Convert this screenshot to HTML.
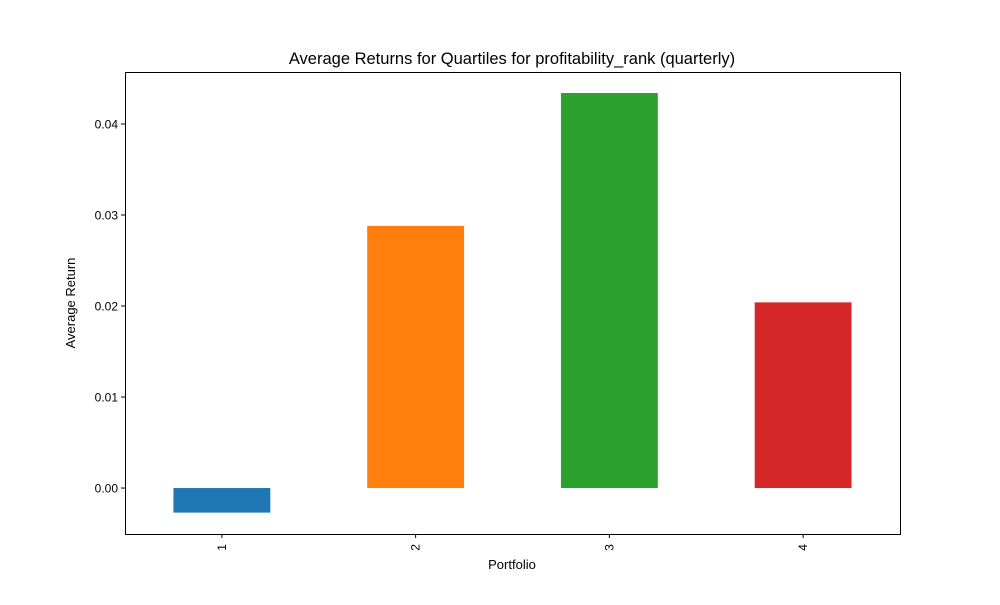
<!DOCTYPE html>
<html><head><meta charset="utf-8"><style>
body{margin:0;background:#fff;}
text{font-family:"Liberation Sans","DejaVu Sans",sans-serif;fill:#000;}
</style></head><body>
<svg id="chart" width="1000" height="600">
<rect width="1000" height="600" fill="#fff"/>
<text x="512" y="64" text-anchor="middle" font-size="16.5">Average Returns for Quartiles for profitability_rank (quarterly)</text>
<g id="bars"></g>
<rect x="125.5" y="72.5" width="775" height="462" fill="none" stroke="#000" stroke-width="1"/>
<g id="yticks"></g><g id="xticks"></g>
<text x="512" y="569" text-anchor="middle" font-size="13">Portfolio</text>
<text transform="translate(75,303) rotate(-90)" text-anchor="middle" font-size="13">Average Return</text>
</svg>
<script>
const categories=["1","2","3","4"];
const values=[-0.0027,0.0288,0.0434,0.0204];
const colors=["#1f77b4","#ff7f0e","#2ca02c","#d62728"];
const yTicks=[0,0.01,0.02,0.03,0.04];
const yTickLabels=["0.00","0.01","0.02","0.03","0.04"];
const L=125,R=900,T=72,B=534,ymin=-0.00505,ymax=0.04571;
const ns="http://www.w3.org/2000/svg";
function y(v){return B-(v-ymin)/(ymax-ymin)*(B-T);}
function x(i){return L+(i+0.5)/categories.length*(R-L);}
const bw=0.5*(R-L)/categories.length;
const gb=document.getElementById('bars'),gy=document.getElementById('yticks'),gx=document.getElementById('xticks');
values.forEach((v,i)=>{
 const r=document.createElementNS(ns,'rect');
 r.setAttribute('x',x(i)-bw/2);r.setAttribute('width',bw);
 r.setAttribute('y',Math.min(y(v),y(0)));r.setAttribute('height',Math.abs(y(v)-y(0)));
 r.setAttribute('fill',colors[i]);
 
 
 gb.appendChild(r);
 const t=document.createElementNS(ns,'line');
 t.setAttribute('x1',x(i));t.setAttribute('x2',x(i));t.setAttribute('y1',B);t.setAttribute('y2',B+4);t.setAttribute('stroke','#000');
 gx.appendChild(t);
 const tx=document.createElementNS(ns,'text');
 tx.setAttribute('transform','translate('+(x(i)+4)+','+(B+10)+') rotate(-90)');
 tx.setAttribute('text-anchor','end');tx.setAttribute('font-size','12');
 tx.textContent=categories[i];
 
 
 gx.appendChild(tx);
});
yTicks.forEach((v,i)=>{
 const t=document.createElementNS(ns,'line');
 t.setAttribute('x1',L-4);t.setAttribute('x2',L);t.setAttribute('y1',y(v));t.setAttribute('y2',y(v));t.setAttribute('stroke','#000');
 gy.appendChild(t);
 const tx=document.createElementNS(ns,'text');
 tx.setAttribute('x',L-7);tx.setAttribute('y',y(v)+4.5);tx.setAttribute('text-anchor','end');tx.setAttribute('font-size','12');
 tx.textContent=yTickLabels[i];
 
 
 gy.appendChild(tx);
});
</script>
</body></html>
